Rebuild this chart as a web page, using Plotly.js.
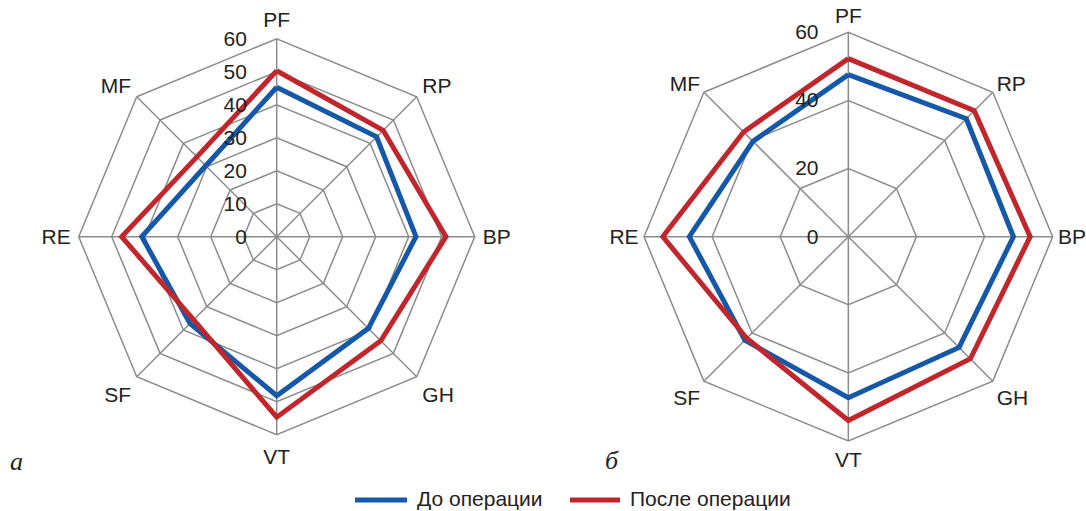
<!DOCTYPE html>
<html>
<head>
<meta charset="utf-8">
<script src="https://cdn.plot.ly/plotly-3.0.1.min.js"></script>
<style>html,body{margin:0;padding:0;background:#fff;}#chart{width:1086px;height:511px;}</style>
</head>
<body>
<div id="chart"></div>
<script>
var categories = ["PF", "RP", "BP", "GH", "VT", "SF", "RE", "MF"];
var seriesNames = ["До операции", "После операции"];
var leftBefore = [45.3, 42.8, 42.2, 39.3, 48.2, 37.2, 40.9, 30.4];
var leftAfter  = [50.3, 45.6, 51.3, 44.6, 54.7, 35.6, 47.0, 34.2];
var rightBefore = [47.6, 49.0, 48.5, 46.0, 47.3, 43.0, 46.7, 39.6];
var rightAfter  = [52.3, 52.3, 53.4, 50.7, 54.0, 42.2, 54.5, 43.5];
var leftTicks = [0, 10, 20, 30, 40, 50, 60];
var rightTicks = [0, 20, 40, 60];
var panelLabels = ["a", "б"];

var blue = "#1558a8", red = "#c0262c", grid = "#8c8c8c";
var W = 1086, H = 511;

function closeLoop(a) { return a.concat([a[0]]); }

function trace(vals, name, color, sub) {
  return {
    type: "scatterpolar", mode: "lines",
    r: closeLoop(vals), theta: closeLoop(categories),
    name: name, subplot: sub, showlegend: false,
    line: {color: color, width: 5},
    hoverinfo: "skip"
  };
}

var data = [
  trace(leftBefore, seriesNames[0], blue, "polar"),
  trace(leftAfter, seriesNames[1], red, "polar"),
  trace(rightBefore, seriesNames[0], blue, "polar2"),
  trace(rightAfter, seriesNames[1], red, "polar2")
];

var font = {family: "Liberation Sans, Arial, sans-serif", size: 21, color: "#222"};

function polarCfg(dom, ticks, alen) {
  return {
    domain: dom,
    gridshape: "linear",
    bgcolor: "rgba(0,0,0,0)",
    angularaxis: {
      type: "category", categoryarray: categories, direction: "clockwise", rotation: 90,
      showline: true, linecolor: grid, linewidth: 1.5,
      showgrid: true, gridcolor: grid, gridwidth: 1.5,
      ticks: "outside", ticklen: alen, tickcolor: "rgba(0,0,0,0)", tickfont: font
    },
    radialaxis: {
      range: [0, 60], tickvals: ticks, ticktext: ticks.map(String),
      angle: 90, tickangle: 90, side: "counterclockwise",
      showline: false, showgrid: true, gridcolor: grid, gridwidth: 1.5,
      ticks: "outside", ticklen: 22, tickcolor: "rgba(0,0,0,0)", tickfont: font
    }
  };
}

function px(x) { return x / W; }
function py(y) { return 1 - y / H; }

var legendY = 500;
var layout = {
  width: W, height: H,
  margin: {l: 0, r: 0, t: 0, b: 0},
  paper_bgcolor: "#fff",
  font: font,
  polar: polarCfg({x: [0.0725, 0.4371], y: [0.1493, 0.9243]}, leftTicks, 3),
  polar2: polarCfg({x: [0.593, 0.9693], y: [0.137, 0.9366]}, rightTicks, 0.5),
  showlegend: false,
  shapes: [
    {type: "line", xref: "paper", yref: "paper", x0: px(355), x1: px(407), y0: py(legendY), y1: py(legendY),
     line: {color: blue, width: 5}},
    {type: "line", xref: "paper", yref: "paper", x0: px(570), x1: px(620), y0: py(legendY), y1: py(legendY),
     line: {color: red, width: 5}}
  ],
  annotations: [
    {text: "<i>" + panelLabels[0] + "</i>", x: px(16.7), y: 0.065, xref: "paper", yref: "paper", showarrow: false,
     xanchor: "center", font: {family: "Liberation Serif, serif", size: 26, color: "#222"}},
    {text: "<i>" + panelLabels[1] + "</i>", x: px(612), y: 0.0673, xref: "paper", yref: "paper", showarrow: false,
     xanchor: "center", font: {family: "Liberation Serif, serif", size: 26, color: "#222"}},
    {text: seriesNames[0], x: px(416), y: 0, xref: "paper", yref: "paper", showarrow: false,
     xanchor: "left", yanchor: "bottom", borderpad: 0, font: font},
    {text: seriesNames[1], x: px(629), y: 0, xref: "paper", yref: "paper", showarrow: false,
     xanchor: "left", yanchor: "bottom", borderpad: 0, font: font}
  ]
};

Plotly.newPlot("chart", data, layout, {displayModeBar: false, staticPlot: true});
</script>
</body>
</html>
